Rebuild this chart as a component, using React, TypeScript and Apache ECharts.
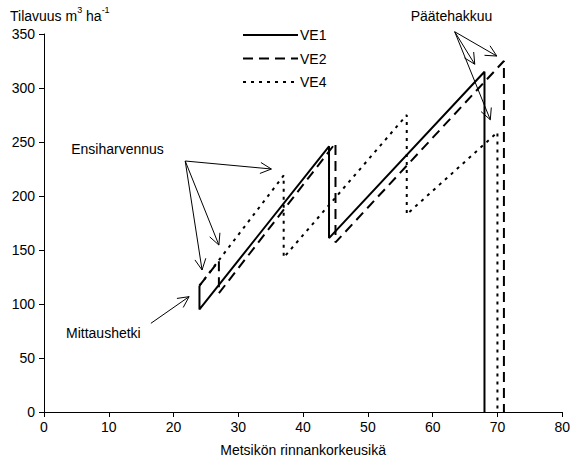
import React, { useEffect, useRef } from 'react';
import * as echarts from 'echarts';

const FONT = '"Liberation Sans", Arial, sans-serif';

// Stand age (x) and volume m3/ha (y) for each scenario
const ve1Age = [24, 24, 44, 44, 68, 68];
const ve1Vol = [117, 95, 246, 161, 315, 0];
const ve2Age = [24, 27, 27, 45, 45, 71, 71];
const ve2Vol = [117, 140, 110, 249, 157, 325, 0];
const ve4Age = [24, 37, 37, 56, 56, 70, 70];
const ve4Vol = [117, 219, 143, 275, 183, 259, 0];

const seriesNames = ['VE1', 'VE2', 'VE4'];

// Annotation labels and arrows in data coordinates
const annLabels = ['Ensiharvennus', 'Mittaushetki', 'Päätehakkuu'];
const annTextAt = [[4.2, 243.5], [3.4, 73], [56.6, 366.7]];
const annFrom = [[21.8, 232.4], [16.5, 82.1], [63.4, 352.1]];
const annTips = [
  [[35.1, 225], [27.0, 154.6], [24.4, 131.5]],
  [[22.4, 106.8]],
  [[69.9, 329.6], [66.5, 322], [68.9, 270.6]],
];

const zip = (a: number[], b: number[]) => a.map((v, i) => [v, b[i]]);

export default function App() {
  const ref = useRef<HTMLDivElement>(null);
  useEffect(() => {
    if (!ref.current) return;
    const chart = echarts.init(ref.current, null, { renderer: 'svg' });
    const dashes: any[] = ['solid', [10, 6], [3, 5]];
    const datas = [zip(ve1Age, ve1Vol), zip(ve2Age, ve2Vol), zip(ve4Age, ve4Vol)];
    chart.setOption({
      animation: false,
      textStyle: { fontFamily: FONT },
      title: {
        left: 10,
        top: 5,
        padding: 0,
        text: '{a|Tilavuus m}{s|3}{a| ha}{s|-1}',
        textStyle: {
          fontWeight: 'normal',
          rich: {
            a: { fontSize: 14, fontFamily: FONT, color: '#000', lineHeight: 18, verticalAlign: 'bottom' },
            s: { fontSize: 9, fontFamily: FONT, color: '#000', lineHeight: 18, verticalAlign: 'top' },
          },
        },
      },
      grid: { left: 44, right: 8, top: 34, bottom: 51, containLabel: false },
      xAxis: {
        type: 'value',
        min: 0,
        max: 80,
        interval: 10,
        name: 'Metsikön rinnankorkeusikä',
        nameLocation: 'middle',
        nameGap: 31,
        nameTextStyle: { fontSize: 14, color: '#000', fontFamily: FONT },
        splitLine: { show: false },
        axisLine: { lineStyle: { color: '#000', width: 1 } },
        axisTick: { length: 5, lineStyle: { color: '#000' } },
        axisLabel: { margin: 8, fontSize: 14, color: '#000', fontFamily: FONT },
      },
      yAxis: {
        type: 'value',
        min: 0,
        max: 350,
        interval: 50,
        splitLine: { show: false },
        axisLine: { show: true, lineStyle: { color: '#000', width: 1 } },
        axisTick: { show: true, length: 5, lineStyle: { color: '#000' } },
        axisLabel: { margin: 9, fontSize: 14, color: '#000', fontFamily: FONT },
      },
      series: seriesNames.map((n, i) => ({
        name: n,
        type: 'line',
        data: datas[i],
        showSymbol: false,
        symbol: 'none',
        color: '#000',
        lineStyle: { color: '#000', width: 2, type: dashes[i] },
      })),
    });

    const toPx = (p: number[]) => chart.convertToPixel({ xAxisIndex: 0, yAxisIndex: 0 }, p) as number[];
    const graphics: any[] = [];

    // Legend
    const legLeft = 243;
    const legTop = 35;
    const legStep = 23.5;
    seriesNames.forEach((n, i) => {
      const y = legTop + i * legStep;
      graphics.push({
        type: 'line',
        shape: { x1: legLeft, y1: y, x2: legLeft + 55, y2: y },
        style: { stroke: '#000', lineWidth: 2, lineDash: dashes[i] === 'solid' ? null : dashes[i] },
      });
      graphics.push({
        type: 'text',
        x: legLeft + 57,
        y,
        style: { text: n, fontSize: 14, fontFamily: FONT, fill: '#000', verticalAlign: 'middle', align: 'left' },
      });
    });

    const L = 11;
    const W = 5.5;
    annLabels.forEach((lab, i) => {
      const t = toPx(annTextAt[i]);
      graphics.push({
        type: 'text',
        x: t[0],
        y: t[1],
        style: { text: lab, fontSize: 14, fontFamily: FONT, fill: '#000', verticalAlign: 'middle', align: 'left' },
      });
      const f = toPx(annFrom[i]);
      annTips[i].forEach((tipD) => {
        const tp = toPx(tipD);
        const dx = tp[0] - f[0];
        const dy = tp[1] - f[1];
        const len = Math.hypot(dx, dy);
        const ux = dx / len;
        const uy = dy / len;
        const px = -uy;
        const py = ux;
        graphics.push({
          type: 'line',
          shape: { x1: f[0], y1: f[1], x2: tp[0], y2: tp[1] },
          style: { stroke: '#000', lineWidth: 1 },
        });
        graphics.push({
          type: 'polyline',
          shape: {
            points: [
              [tp[0] - L * ux + W * px, tp[1] - L * uy + W * py],
              [tp[0], tp[1]],
              [tp[0] - L * ux - W * px, tp[1] - L * uy - W * py],
            ],
          },
          style: { stroke: '#000', lineWidth: 1, fill: 'none' },
        });
      });
    });
    chart.setOption({ graphic: graphics });
    return () => chart.dispose();
  }, []);
  return (
    <div
      ref={ref}
      style={{ position: 'fixed', left: 0, top: 0, width: 573, height: 463, background: '#fff' }}
    />
  );
}
